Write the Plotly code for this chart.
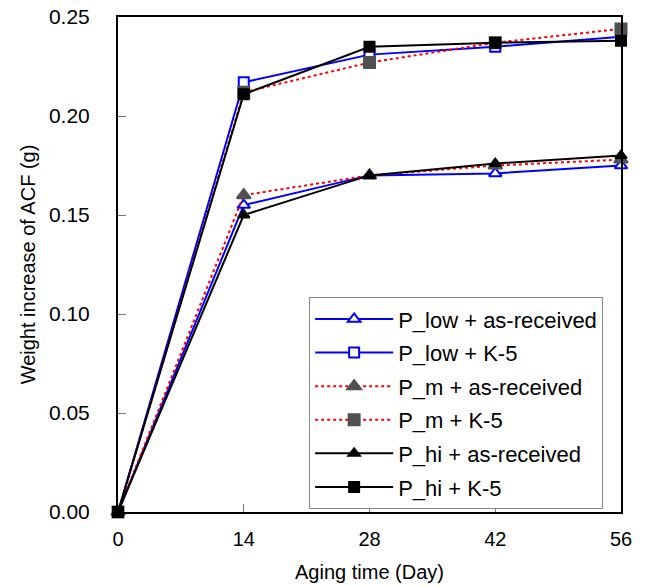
import plotly.graph_objects as go

days = [0, 14, 28, 42, 56]
p_low_ar = [0.0, 0.155, 0.170, 0.171, 0.175]
p_low_k5 = [0.0, 0.217, 0.231, 0.235, 0.240]
p_m_ar = [0.0, 0.160, 0.170, 0.175, 0.178]
p_m_k5 = [0.0, 0.212, 0.227, 0.237, 0.244]
p_hi_ar = [0.0, 0.150, 0.170, 0.176, 0.180]
p_hi_k5 = [0.0, 0.211, 0.235, 0.237, 0.238]

y_ticks = [0.0, 0.05, 0.10, 0.15, 0.20, 0.25]
x_ticks = [0, 14, 28, 42, 56]

FONT = "Liberation Sans"
GRAY = "#505050"

series = [
    ("P_low + as-received", p_low_ar, "blue", "solid", "triangle-up", "white", "blue", 11),
    ("P_low + K-5", p_low_k5, "blue", "solid", "square", "white", "blue", 10),
    ("P_m + as-received", p_m_ar, "red", "dot", "triangle-up", GRAY, GRAY, 12),
    ("P_m + K-5", p_m_k5, "red", "dot", "square", GRAY, GRAY, 11),
    ("P_hi + as-received", p_hi_ar, "black", "solid", "triangle-up", "black", "black", 10),
    ("P_hi + K-5", p_hi_k5, "black", "solid", "square", "black", "black", 10),
]

fig = go.Figure()
for i, (name, ys, lc, dash, sym, fc, mlc, sz) in enumerate(series):
    fig.add_trace(go.Scatter(
        x=days, y=ys, name=name, mode="lines+markers",
        legendgroup=f"g{i}",
        line=dict(color=lc, width=2, dash=dash),
        marker=dict(symbol=sym, size=sz, color=fc, line=dict(color=mlc, width=2)),
        cliponaxis=False,
    ))

fig.update_layout(
    width=648, height=586,
    margin=dict(l=118, r=27, t=17, b=74, autoexpand=False),
    paper_bgcolor="white", plot_bgcolor="white",
    font=dict(family=FONT, size=20, color="black"),
    showlegend=True,
    legend=dict(
        x=0.38, y=0.434, xanchor="left", yanchor="top",
        bgcolor="white", bordercolor="#888888", borderwidth=1,
        font=dict(family=FONT, size=22),
        itemwidth=78, tracegroupgap=2,
    ),
    xaxis=dict(
        range=[0, 56], tickvals=x_ticks, ticktext=[str(v) for v in x_ticks],
        ticks="inside", ticklen=8, tickcolor="#777777", tickwidth=1,
        showline=True, linecolor="black", linewidth=2, mirror=True,
        showgrid=False, zeroline=False, automargin=False,
        ticklabelstandoff=8,
        title=dict(text="Aging time (Day)", font=dict(size=20), standoff=16),
        tickfont=dict(size=20),
    ),
    yaxis=dict(
        range=[0, 0.25], tickvals=y_ticks, ticktext=[f"{v:.2f}" for v in y_ticks],
        ticks="inside", ticklen=8, tickcolor="#777777", tickwidth=1,
        showline=True, linecolor="black", linewidth=2, mirror=True,
        showgrid=False, zeroline=False, automargin=False,
        ticklabelstandoff=22,
        title=dict(text="Weight increase of ACF (g)", font=dict(size=20), standoff=8),
        tickfont=dict(size=21),
    ),
)

fig.write_html("out.html")
